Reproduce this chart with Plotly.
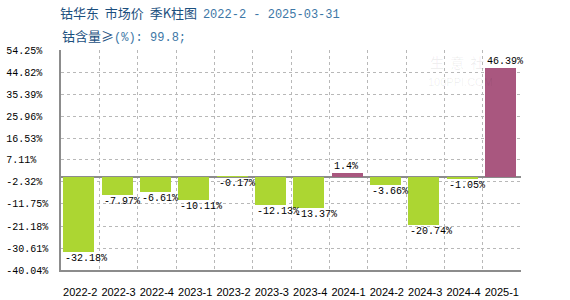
import plotly.graph_objects as go

categories = ["2022-2", "2022-3", "2022-4", "2023-1", "2023-2", "2023-3",
              "2023-4", "2024-1", "2024-2", "2024-3", "2024-4", "2025-1"]
values = [-32.18, -7.97, -6.61, -10.11, -0.17, -12.13,
          -13.37, 1.4, -3.66, -20.74, -1.05, 46.39]
y_ticks = [54.25, 44.82, 35.39, 25.96, 16.53, 7.11, -2.32,
           -11.75, -21.18, -30.61, -40.04]

POS = "#a9577f"
NEG = "#acd632"
MONO = "Liberation Mono, DejaVu Sans Mono, monospace"
CJK = "Noto Sans CJK SC, sans-serif"
GRID = "#b8b8b8"
AXIS = "#8c8c8c"

x = list(range(len(categories)))
bar_w = 0.81
bar_off = -0.44

fig = go.Figure()
fig.add_trace(go.Bar(
    x=x, y=values,
    width=bar_w, offset=bar_off,
    marker=dict(color=[POS if v >= 0 else NEG for v in values], line=dict(width=0)),
    hoverinfo="skip",
))

annotations = []
for i, v in enumerate(values):
    annotations.append(dict(
        x=i + bar_off, y=v, xref="x", yref="y",
        text=f"{v:g}%", showarrow=False,
        xanchor="left", yanchor="bottom" if v >= 0 else "top",
        yshift=-1 if v >= 0 else 1,
        font=dict(family=MONO, size=10, color="#000000"),
    ))

annotations.append(dict(
    xref="paper", yref="paper", x=-0.002, y=(270 - 35) / 220,
    xanchor="left", yanchor="middle", showarrow=False,
    text="<span style='color:#1b4f7e'>钴含量≥</span><span style='color:#3d77a6;font-family:Liberation Mono;font-size:12px'>(%): 99.8;</span>",
    font=dict(family=CJK, size=13, color="#1b4f7e"),
))
annotations.append(dict(
    xref="paper", yref="paper", x=(457 - 61) / 460, y=(270 - 62) / 220,
    xanchor="center", yanchor="middle",
    showarrow=False, text="生\u00a0\u00a0意\u00a0\u00a0社",
    font=dict(family=CJK, size=14, color="rgba(0,0,0,0.07)"),
))
annotations.append(dict(
    xref="paper", yref="paper", x=(460 - 61) / 460, y=(270 - 82) / 220,
    xanchor="center", yanchor="middle",
    showarrow=False, text="100PPI.COM",
    font=dict(family="Liberation Sans", size=11, color="rgba(0,0,0,0.07)"),
))

def pad(s, n=7):
    return s + "\u00a0" * (n - len(s))

fig.update_layout(
    width=570, height=300, autosize=False,
    margin=dict(l=61, r=49, t=50, b=30),
    paper_bgcolor="#ffffff", plot_bgcolor="#ffffff",
    showlegend=False, bargap=0,
    title=dict(
        text="<span style='color:#1b4f7e'>钴华东\u00a0\u00a0市场价\u00a0\u00a0季K柱图\u00a0\u00a0</span><span style='color:#3d77a6;font-family:Liberation Mono;font-size:12px'>2022-2 - 2025-03-31</span>",
        x=60 / 570, xanchor="left", xref="container",
        y=1 - 13 / 300, yanchor="middle", yref="container",
        font=dict(family=CJK, size=13, color="#1b4f7e"),
    ),
    annotations=annotations,
    xaxis=dict(
        range=[-0.5, len(categories) - 0.5],
        tickmode="array", tickvals=x, ticktext=categories,
        showgrid=False, zeroline=False, automargin=False,
        showline=True, linecolor=AXIS, linewidth=1.5,
        ticks="", ticklabelstandoff=11,
        tickfont=dict(family="Liberation Sans, Arial", size=11, color="#000000"),
        minor=dict(tickmode="array", tickvals=[i + 0.5 for i in x],
                   showgrid=True, gridcolor=GRID, griddash="3px,3px", gridwidth=1, ticks=""),
        fixedrange=True,
    ),
    yaxis=dict(
        range=[y_ticks[-1], y_ticks[0]],
        tickmode="array", tickvals=y_ticks, ticktext=[pad(f"{t:.2f}%") for t in y_ticks],
        showgrid=True, gridcolor=GRID, griddash="3px,3px", gridwidth=1,
        zeroline=True, zerolinecolor=AXIS, zerolinewidth=1.5, automargin=False,
        showline=True, linecolor=AXIS, linewidth=1.5,
        ticks="", ticklabelstandoff=9,
        tickfont=dict(family=MONO, size=10, color="#000000"),
        fixedrange=True,
    ),
)

fig.write_html("out.html")
